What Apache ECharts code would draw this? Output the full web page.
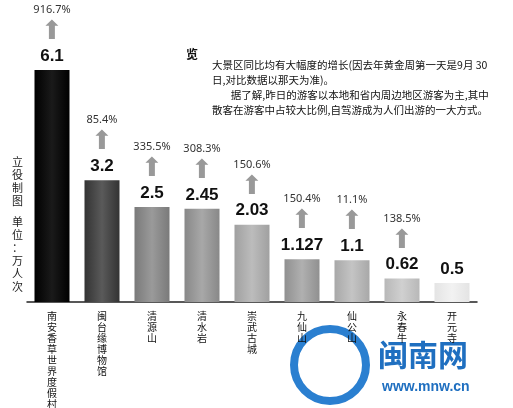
<!DOCTYPE html>
<html>
<head>
<meta charset="utf-8">
<script src="https://cdn.jsdelivr.net/npm/echarts@6/dist/echarts.min.js"></script>
<style>
  html, body { margin: 0; padding: 0; background: #fff; }
  #chart { width: 513px; height: 408px; }
</style>
</head>
<body>
<div id="chart"></div>
<script>
// Data
const categories = ['南安香草世界度假村', '闽台缘博物馆', '清源山', '清水岩', '崇武古城', '九仙山', '仙公山', '永春牛', '开元寺'];
const visitors = [6.1, 3.2, 2.5, 2.45, 2.03, 1.127, 1.1, 0.62, 0.5];
const growth = ['916.7%', '85.4%', '335.5%', '308.3%', '150.6%', '150.4%', '11.1%', '138.5%', ''];
const barColors = [
    ['#000000', '#1a1a1a'], ['#333333', '#5a5a5a'], ['#7a7a7a', '#9a9a9a'], ['#888888', '#a8a8a8'],
    ['#a0a0a0', '#bcbcbc'], ['#909090', '#b0b0b0'], ['#a8a8a8', '#c4c4c4'], ['#b8b8b8', '#d0d0d0'], ['#e4e4e4', '#f2f2f2']
];

const chart = echarts.init(document.getElementById('chart'));

const data = visitors.map((v, i) => ({
    value: v,
    itemStyle: {
        color: new echarts.graphic.LinearGradient(0, 0, 1, 0, [
            { offset: 0, color: barColors[i][0] },
            { offset: 0.5, color: barColors[i][1] },
            { offset: 1, color: barColors[i][0] }
        ])
    },
    label: {
        formatter: growth[i]
            ? '{p|' + growth[i] + '}\n{a|⬆}\n{v|' + v + '}'
            : '{v|' + v + '}'
    }
}));

chart.setOption({
    animation: false,
    grid: { left: 27, right: 36, top: 70, bottom: 106, outerBoundsMode: 'none' },
    xAxis: {
        type: 'category',
        data: categories,
        axisLine: { lineStyle: { color: '#222', width: 1.5 } },
        axisTick: { show: false },
        axisLabel: {
            interval: 0,
            margin: 9,
            verticalAlign: 'top',
            lineHeight: 11,
            fontSize: 10,
            color: '#111',
            fontFamily: 'Noto Sans CJK SC',
            formatter: s => s.split('').join('\n')
        }
    },
    yAxis: { type: 'value', min: 0, max: 6.1, show: false },
    series: [{
        type: 'bar',
        barWidth: 35,
        data: data,
        label: {
            show: true,
            position: 'top',
            distance: 4,
            align: 'center',
            rich: {
                p: { fontSize: 11, color: '#333', fontFamily: 'Noto Sans', lineHeight: 16 },
                a: { fontSize: 26, color: '#999', lineHeight: 28 },
                v: { fontSize: 17, fontWeight: 'bold', color: '#111', fontFamily: 'Liberation Sans', lineHeight: 20 }
            }
        }
    }],
    graphic: [
        { type: 'text', left: 12, top: 155, style: { text: '立\n役\n制\n图', fontSize: 11, lineHeight: 13, fill: '#222', fontFamily: 'Noto Sans CJK SC' } },
        { type: 'text', left: 12, top: 215, style: { text: '单\n位\n：\n万\n人\n次', fontSize: 11, lineHeight: 13, fill: '#222', fontFamily: 'Noto Sans CJK SC' } },
        { type: 'text', left: 186, top: 48, style: { text: '览', fontSize: 12, fontWeight: 'bold', fill: '#111', fontFamily: 'Noto Sans CJK SC' } },
        { type: 'text', left: 212, top: 58, style: {
            text: '大景区同比均有大幅度的增长(因去年黄金周第一天是9月 30\n日,对比数据以那天为准)。\n        据了解,昨日的游客以本地和省内周边地区游客为主,其中\n散客在游客中占较大比例,自驾游成为人们出游的一大方式。',
            fontSize: 10.5, lineHeight: 15, fill: '#111', fontFamily: 'Noto Sans CJK SC' } },
        { type: 'text', left: 378, top: 340, style: { text: '闽南网', fontSize: 30, fontWeight: 'bold', fill: '#1f6fc0', fontFamily: 'Noto Sans CJK SC' } },
        { type: 'text', left: 382, top: 380, style: { text: 'www.mnw.cn', fontSize: 14, fontWeight: 'bold', fill: '#1f6fc0', fontFamily: 'Liberation Sans' } },
        { type: 'circle', shape: { cx: 330, cy: 365, r: 36 }, style: { fill: 'none', stroke: '#2a7fd0', lineWidth: 8 } }
    ]
});
</script>
</body>
</html>
